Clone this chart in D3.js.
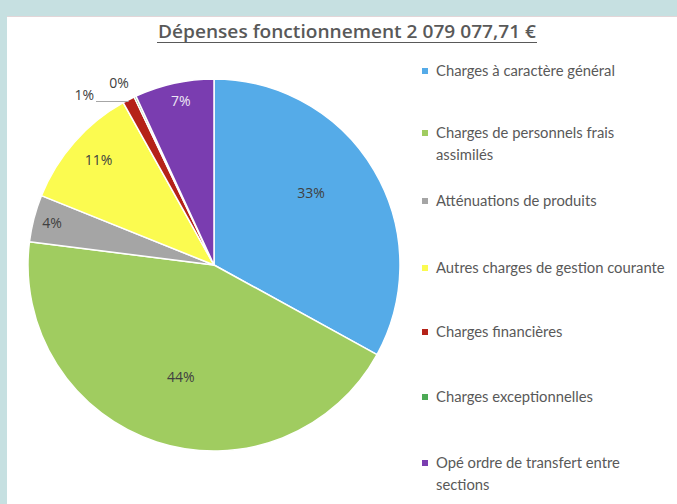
<!DOCTYPE html>
<html>
<head>
<meta charset="utf-8">
<script src="https://cdn.jsdelivr.net/npm/d3@7"></script>
<style>
  body { margin: 0; background: #c6e0e1; }
  svg { display: block; }
</style>
</head>
<body>
<div id="div_pie_depenses"></div>
<script>
// categories and amounts (euros)
const categories = [
  "Charges à caractère général",
  "Charges de personnels frais assimilés",
  "Atténuations de produits",
  "Autres charges de gestion courante",
  "Charges financières",
  "Charges exceptionnelles",
  "Opé ordre de transfert entre sections"
];
const amounts = [686000, 914800, 85000, 224500, 22000, 3500, 143277.71];
const sliceColors = ["#55abe8", "#a0cc60", "#a5a5a5", "#fbfb50", "#b52218", "#4caa55", "#7a3db0"];
// legend text is wrapped like in the original
const legendLines = [
  ["Charges à caractère général"],
  ["Charges de personnels frais", "assimilés"],
  ["Atténuations de produits"],
  ["Autres charges de gestion courante"],
  ["Charges financières"],
  ["Charges exceptionnelles"],
  ["Opé ordre de transfert entre", "sections"]
];
const titleText = "Dépenses fonctionnement 2 079 077,71 €";

draw_pie();

function draw_pie(){
    const width = 677, height = 504;

    const svg = d3.select("#div_pie_depenses")
        .append("svg")
        .attr("width", width)
        .attr("height", height);

    //light frame like the screenshot
    svg.append("rect").attr("width", width).attr("height", height).attr("fill", "#c6e0e1");
    svg.append("rect").attr("x", 7).attr("y", 16).attr("width", width - 7).attr("height", height - 16)
        .attr("fill", "#ffffff");
    svg.append("line").attr("x1", 7).attr("x2", width).attr("y1", 16.5).attr("y2", 16.5)
        .attr("stroke", "#e2d6d8").attr("stroke-width", 1);

    //title
    svg.append("text")
        .attr("x", 347)
        .attr("y", 38)
        .attr("text-anchor", "middle")
        .attr("font-family", "'Open Sans', sans-serif")
        .attr("font-weight", 600)
        .attr("font-size", 18)
        .attr("fill", "#595959")
        .attr("textLength", 378)
        .attr("lengthAdjust", "spacingAndGlyphs")
        .text(titleText);
    svg.append("line")
        .attr("x1", 157).attr("x2", 537)
        .attr("y1", 42.5).attr("y2", 42.5)
        .attr("stroke", "#595959").attr("stroke-width", 1.2);

    //pie
    const cx = 214, cy = 265, radius = 186;
    const total = d3.sum(amounts);
    const data = categories.map((c, i) => ({ cat: c, value: amounts[i], color: sliceColors[i], idx: i }));

    const pie = d3.pie().sort(null).value(d => d.value);
    const arcs = pie(data);
    const arc = d3.arc().innerRadius(0).outerRadius(radius);

    const g = svg.append("g").attr("transform", `translate(${cx}, ${cy})`);

    g.selectAll("path")
        .data(arcs)
        .join("path")
        .attr("d", arc)
        .attr("fill", d => d.data.color)
        .attr("stroke", "#ffffff")
        .attr("stroke-width", 1.5)
        .attr("stroke-linejoin", "round");

    const pct = d => d3.format(".0%")(d.data.value / total);

    //label placement: radius factor (share of radius) per slice, like Excel "best fit"
    const labelRadius = [0.65, 0.63, 0.9, 0.84, null, null, 0.9];
    const labelShift = [-6, -1.5, 0, 1, 0, 0, 1]; // degrees
    const inside = arcs.filter(d => labelRadius[d.data.idx] !== null);

    g.selectAll("text.inside")
        .data(inside)
        .join("text")
        .attr("class", "inside")
        .attr("transform", d => {
            const a = (d.startAngle + d.endAngle) / 2 + labelShift[d.data.idx] * Math.PI / 180;
            const r = radius * labelRadius[d.data.idx];
            return `translate(${r * Math.sin(a)}, ${-r * Math.cos(a)})`;
        })
        .attr("text-anchor", "middle")
        .attr("dy", "0.35em")
        .attr("font-family", "'Open Sans', sans-serif")
        .attr("font-size", 14)
        .attr("fill", d => d.data.idx === 6 ? "#ece6f4" : "#404040")
        .text(pct);

    //outside labels for tiny slices
    const fin = arcs[4], exc = arcs[5];
    const finMid = (fin.startAngle + fin.endAngle) / 2;
    const edgeX = radius * Math.sin(finMid);
    g.append("line")
        .attr("x1", 96 - cx).attr("y1", 101.5 - cy)
        .attr("x2", edgeX).attr("y2", 101.5 - cy)
        .attr("stroke", "#a6a6a6").attr("stroke-width", 1);
    g.append("text")
        .attr("x", 94 - cx).attr("y", 95 - cy)
        .attr("text-anchor", "end")
        .attr("dy", "0.35em")
        .attr("font-family", "'Open Sans', sans-serif")
        .attr("font-size", 14)
        .attr("fill", "#404040")
        .text(pct(fin));
    g.append("text")
        .attr("x", 119 - cx).attr("y", 83 - cy)
        .attr("text-anchor", "middle")
        .attr("dy", "0.35em")
        .attr("font-family", "'Open Sans', sans-serif")
        .attr("font-size", 14)
        .attr("fill", "#404040")
        .text(pct(exc));

    //legend
    const legendRowY = [71, 133, 201, 268, 332, 397, 463];
    const legend = svg.append("g").attr("class", "legend");
    const item = legend.selectAll("g")
        .data(data)
        .join("g")
        .attr("transform", (d, i) => `translate(422, ${legendRowY[i]})`);

    item.append("rect")
        .attr("x", 0).attr("y", -3)
        .attr("width", 6).attr("height", 6)
        .attr("fill", d => d.color);

    item.append("text")
        .attr("x", 14)
        .attr("font-family", "Lato, sans-serif")
        .attr("font-size", 14.8)
        .attr("fill", "#595959")
        .selectAll("tspan")
        .data(d => legendLines[d.idx])
        .join("tspan")
        .attr("x", 14)
        .attr("y", (d, i) => i * 22)
        .attr("dy", "0.35em")
        .text(d => d);
}
</script>
</body>
</html>
